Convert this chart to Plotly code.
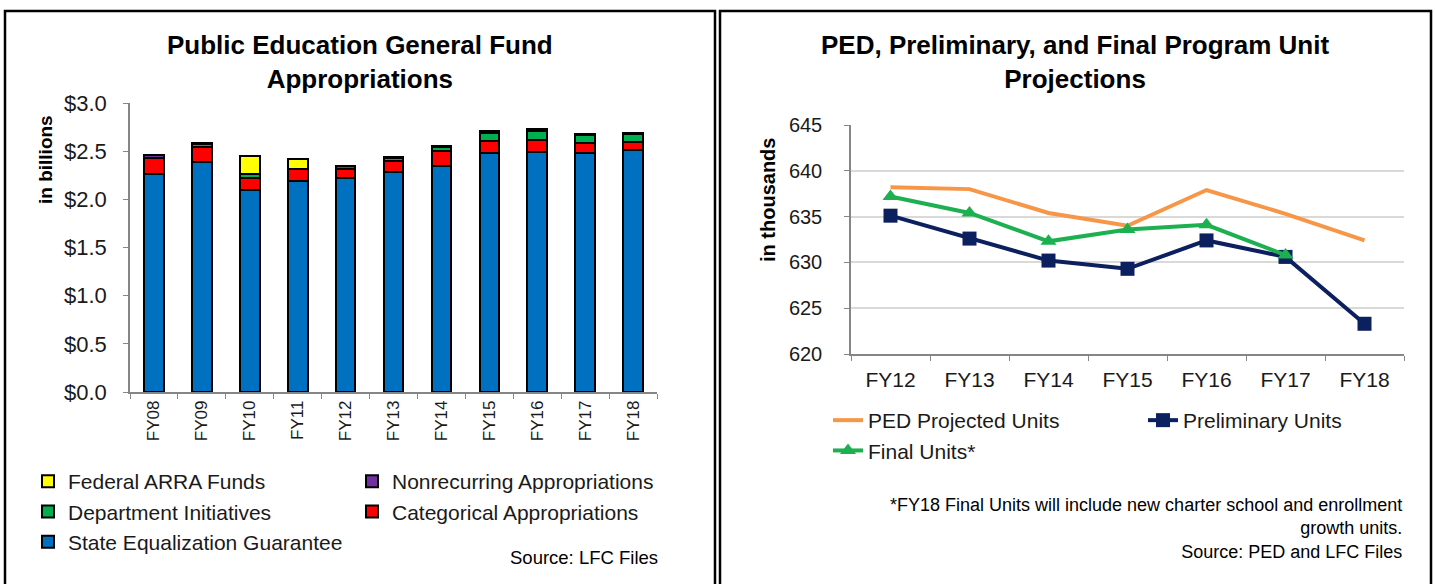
import plotly.graph_objects as go

W, H = 1435, 584
def px(x): return x / W
def py(y): return 1 - y / H

# ---- Left chart data (in billions) ----
years_left = ["FY08", "FY09", "FY10", "FY11", "FY12", "FY13", "FY14", "FY15", "FY16", "FY17", "FY18"]
seg = [2.26, 2.39, 2.10, 2.19, 2.22, 2.28, 2.35, 2.48, 2.49, 2.48, 2.51]
categorical = [0.17, 0.15, 0.12, 0.12, 0.10, 0.12, 0.15, 0.13, 0.13, 0.11, 0.09]
dept_init = [0.00, 0.03, 0.04, 0.01, 0.00, 0.03, 0.04, 0.08, 0.09, 0.08, 0.08]
nonrecurring = [0.03, 0.01, 0.00, 0.00, 0.03, 0.01, 0.01, 0.02, 0.02, 0.01, 0.01]
arra = [0.00, 0.00, 0.19, 0.10, 0.00, 0.00, 0.00, 0.00, 0.00, 0.00, 0.00]
left_ticks = [0, 0.5, 1.0, 1.5, 2.0, 2.5, 3.0]
left_ticklabels = ["$0.0", "$0.5", "$1.0", "$1.5", "$2.0", "$2.5", "$3.0"]

# ---- Right chart data (in thousands) ----
years_right = ["FY12", "FY13", "FY14", "FY15", "FY16", "FY17", "FY18"]
ped_projected = [638.2, 638.0, 635.4, 634.0, 637.9, 635.3, 632.4]
preliminary = [635.1, 632.6, 630.2, 629.3, 632.4, 630.6, 623.3]
final_units = [637.2, 635.4, 632.3, 633.6, 634.1, 630.8, None]

FONT = "Liberation Sans, Arial, sans-serif"
TXT = "#1a1a1a"
AX = "#868686"
fig = go.Figure()

# stacking order bottom -> top; legend column assignment
bar_series = [
    ("State Equalization Guarantee", seg, "#0070C0", "legend"),
    ("Categorical Appropriations", categorical, "#FF0000", "legend4"),
    ("Department Initiatives", dept_init, "#00B050", "legend"),
    ("Nonrecurring Appropriations", nonrecurring, "#7030A0", "legend4"),
    ("Federal ARRA Funds", arra, "#FFFF00", "legend"),
]
for name, vals, col, lg in bar_series:
    fig.add_trace(go.Bar(
        x=years_left, y=vals, name=name, xaxis="x", yaxis="y",
        marker=dict(color=col, line=dict(color="black", width=2)),
        width=0.41, legend=lg,
    ))

line_series = [
    ("PED Projected Units", ped_projected, "#F79646", None, "legend2"),
    ("Preliminary Units", preliminary, "#0C1F5E", "square", "legend3"),
    ("Final Units*", final_units, "#1DB050", "triangle-up", "legend2"),
]
for name, vals, col, sym, lg in line_series:
    mode = "lines" if sym is None else "lines+markers"
    fig.add_trace(go.Scatter(
        x=years_right, y=vals, name=name, xaxis="x2", yaxis="y2", mode=mode,
        line=dict(color=col, width=4),
        marker=dict(symbol=sym or "circle", size=14, color=col),
        legend=lg,
    ))

leg_common = dict(orientation="v", xanchor="left", yanchor="top", bgcolor="rgba(0,0,0,0)",
                  font=dict(family=FONT, size=21, color=TXT))

fig.update_layout(
    width=W, height=H,
    margin=dict(l=0, r=0, t=0, b=0, autoexpand=False),
    paper_bgcolor="white", plot_bgcolor="white",
    barmode="stack",
    font=dict(family=FONT, size=18, color=TXT),
    xaxis=dict(domain=[px(130), px(657)], showline=True, linecolor=AX, linewidth=1.5,
               ticks="outside", ticklen=5, tickcolor=AX, tickson="boundaries",
               tickangle=-90, tickfont=dict(family=FONT, size=17, color=TXT),
               showgrid=False, zeroline=False, anchor="y"),
    yaxis=dict(domain=[py(392), py(103)], range=[0, 3], tickvals=left_ticks,
               ticktext=left_ticklabels, showline=True, linecolor=AX, linewidth=1.5,
               ticks="outside", ticklen=5, tickcolor=AX, showgrid=False,
               zeroline=False, tickfont=dict(family=FONT, size=22, color=TXT),
               anchor="x", ticklabelstandoff=12),
    xaxis2=dict(domain=[px(851), px(1404)], range=[-0.5, 6.5], showline=True,
                linecolor=AX, linewidth=1.5, ticks="outside", ticklen=5,
                tickcolor=AX, tickson="boundaries", showgrid=False,
                tickfont=dict(family=FONT, size=21, color=TXT), anchor="y2",
                ticklabelstandoff=6),
    yaxis2=dict(domain=[py(354), py(125)], range=[620, 645], dtick=5, showline=True,
                linecolor=AX, linewidth=1.5, ticks="outside", ticklen=5,
                tickcolor=AX, showgrid=True, gridcolor="#D9D9D9", gridwidth=1.5,
                zeroline=False, tickfont=dict(family=FONT, size=20, color=TXT),
                anchor="x2", ticklabelstandoff=18),
    legend=dict(x=px(28), y=py(461), traceorder="reversed", **leg_common),
    legend4=dict(x=px(352), y=py(461), traceorder="reversed", **leg_common),
    legend2=dict(x=px(828), y=py(400), traceorder="normal", **leg_common),
    legend3=dict(x=px(1143), y=py(400), **leg_common),
    showlegend=True,
)

# Panel borders
fig.add_shape(type="rect", xref="paper", yref="paper", x0=px(5), x1=px(715), y0=py(600), y1=py(11),
              line=dict(color="black", width=2.5))
fig.add_shape(type="rect", xref="paper", yref="paper", x0=px(720), x1=px(1431), y0=py(600), y1=py(11),
              line=dict(color="black", width=2.5))

def ann(text, x, y, size=17, bold=False, xanchor="center", yanchor="middle", angle=0, align="center"):
    fig.add_annotation(text=f"<b>{text}</b>" if bold else text, x=px(x), y=py(y), xref="paper", yref="paper",
                       showarrow=False, xanchor=xanchor, yanchor=yanchor, textangle=angle, align=align,
                       font=dict(family=FONT, size=size, color="black"))

ann("Public Education General Fund<br>Appropriations", 360, 62, size=26, bold=True)
ann("PED, Preliminary, and Final Program Unit<br>Projections", 1075, 62, size=26, bold=True)
ann("in billions", 45, 160, size=19, bold=True, angle=-90)
ann("in thousands", 768, 200, size=20, bold=True, angle=-90)
ann("Source: LFC Files", 660, 557, size=18.5, xanchor="right")
ann("*FY18 Final Units will include new charter school and enrollment<br>growth units.<br>Source: PED and LFC Files",
    1404, 528, size=18, xanchor="right", align="right")

fig.write_html("out.html", config={"displayModeBar": False},
               post_script="document.documentElement.style.overflow='hidden';document.body.style.margin='0';document.body.style.overflow='hidden';")
